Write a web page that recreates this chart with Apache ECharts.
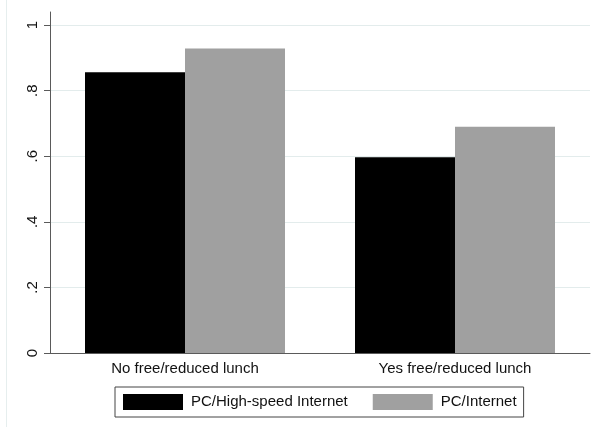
<!DOCTYPE html>
<html>
<head>
<meta charset="utf-8">
<script src="https://cdn.jsdelivr.net/npm/echarts@6/dist/echarts.min.js"></script>
<style>
html,body{margin:0;padding:0;background:#fff;}
#chart{width:599px;height:427px;}
</style>
</head>
<body>
<div id="chart"></div>
<script>
var categories = ['No free/reduced lunch', 'Yes free/reduced lunch'];
var seriesNames = ['PC/High-speed Internet', 'PC/Internet'];
var highSpeed = [0.856, 0.597];
var internet = [0.929, 0.690];
var yTicks = [0, 0.2, 0.4, 0.6, 0.8, 1];
var yTickLabels = ['0', '.2', '.4', '.6', '.8', '1'];
var yGridValues = [0.2, 0.4, 0.6, 0.8, 1];

var chart = echarts.init(document.getElementById('chart'), null, {renderer: 'canvas'});
var font = 'Liberation Sans, Arial, sans-serif';
var axisColor = '#5a5a5a';

chart.setOption({
  animation: false,
  backgroundColor: '#fff',
  grid: {left: 50, right: 9, top: 12, bottom: 74, containLabel: false},
  graphic: [{
    type: 'line',
    shape: {x1: 6.5, y1: 0, x2: 6.5, y2: 427},
    style: {stroke: '#e6eeee', lineWidth: 1},
    silent: true
  }],
  legend: {
    data: seriesNames,
    left: 115,
    top: 387,
    orient: 'horizontal',
    itemWidth: 60,
    itemHeight: 16,
    itemGap: 25,
    padding: [7, 7, 7, 8],
    borderColor: '#444',
    borderWidth: 1,
    borderRadius: 0,
    icon: 'rect',
    textStyle: {fontFamily: font, fontSize: 15, color: '#111', padding: [0, 0, 0, 3]}
  },
  xAxis: {
    type: 'category',
    data: categories,
    axisLine: {show: true, lineStyle: {color: axisColor, width: 1}},
    axisTick: {show: false},
    axisLabel: {fontFamily: font, fontSize: 15, color: '#111', margin: 8},
    splitLine: {show: false}
  },
  yAxis: {
    type: 'value',
    min: 0,
    max: 1.04,
    axisLine: {show: true, lineStyle: {color: axisColor, width: 1}},
    axisTick: {show: true, length: 6, lineStyle: {color: axisColor}, customValues: yTicks},
    axisLabel: {
      customValues: yTicks,
      rotate: 90,
      margin: 10,
      fontFamily: font,
      fontSize: 15,
      color: '#111',
      formatter: function (v) {
        var i = yTicks.findIndex(function (t) { return Math.abs(t - v) < 1e-9; });
        return i >= 0 ? yTickLabels[i] : '';
      }
    },
    splitLine: {show: false}
  },
  series: [{
    name: seriesNames[0],
    type: 'bar',
    data: highSpeed,
    barWidth: 100,
    barGap: '0%',
    itemStyle: {color: '#000'},
    markLine: {
      silent: true,
      symbol: ['none', 'none'],
      label: {show: false},
      lineStyle: {color: '#e3ecec', width: 1, type: 'solid'},
      z: 0,
      data: yGridValues.map(function (v) { return {yAxis: v}; })
    },
    z: 2
  }, {
    name: seriesNames[1],
    type: 'bar',
    data: internet,
    barWidth: 100,
    barGap: '0%',
    itemStyle: {color: '#a0a0a0'},
    z: 2
  }]
});
</script>
</body>
</html>
